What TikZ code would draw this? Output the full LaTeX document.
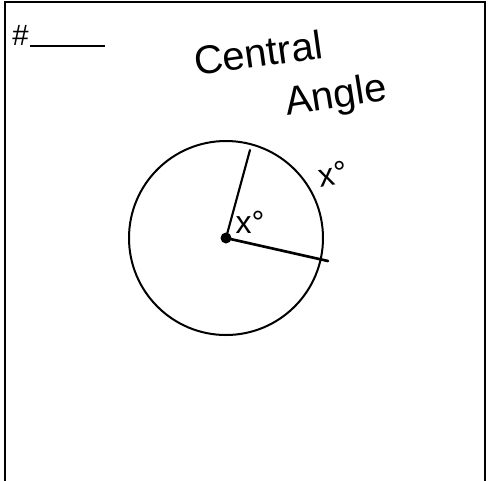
\documentclass[tikz,border=0pt]{standalone}
\usepackage{fontspec}
\setmainfont{Liberation Sans}
\usetikzlibrary{positioning}

\begin{document}
\begin{tikzpicture}[x=0.75pt, y=-0.75pt,
      frame/.style={line width=2.2pt},
      pen/.style={line width=1.6pt, line cap=round},
      hand/.style={font=\fontsize{30}{32}\selectfont, inner sep=0pt},
      lbl/.style={font=\fontsize{24}{26}\selectfont, inner sep=0pt},
    ]
      \useasboundingbox (0,0) rectangle (490,480);

      % card frame (bottom edge runs off the page)
      \draw[frame] (5,482) -- (5,2) -- (485,2) -- (485,482);

      % number slot
      \node[font=\fontsize{22}{24}\selectfont, inner sep=0pt, anchor=south west] (num) at (12,46) {\#};
      \draw[line width=1.3pt] (num.south east) ++(1pt,0) -- (105,46);

      % title
      \node[hand, rotate=8, anchor=base west] (title1) at (196,76) {Central};
      \node[hand, rotate=9, anchor=base west] (title2) at (287,116) {Angle};

      % circle with central angle
      \coordinate (O) at (226,238);
      \draw[line width=1.5pt] (O) circle (97);
      \coordinate (A) at (250,150);
      \coordinate (B) at (328,261);
      \draw[pen] (O) -- (A);
      \draw[pen, line width=2pt] (O) -- (B);
      \fill (O) circle (5.5);

      \node[lbl] (inner) at (250,222) {x°};
      \node[lbl, rotate=10] (outer) at (333,174) {x°};
    \end{tikzpicture}
\end{document}
